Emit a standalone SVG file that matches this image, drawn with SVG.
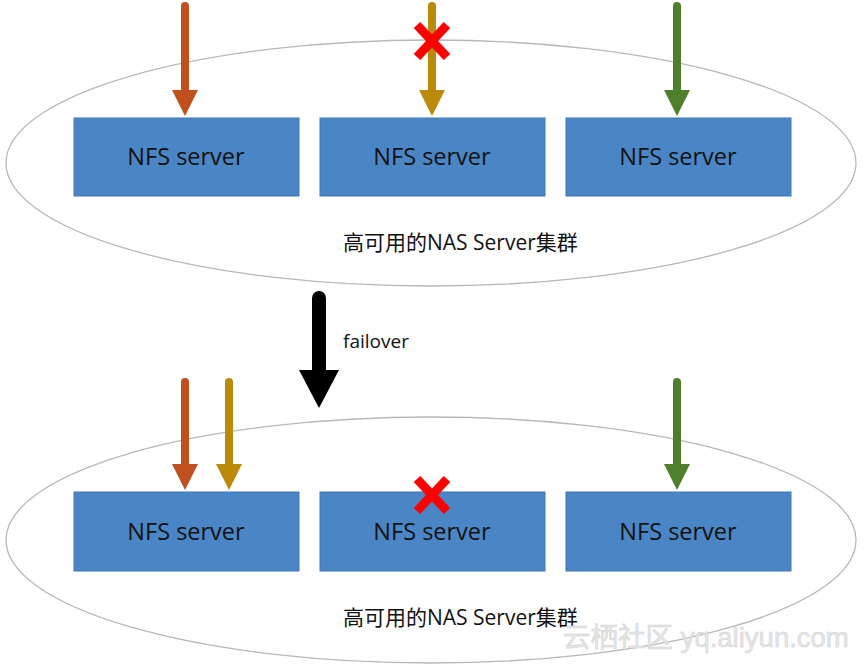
<svg xmlns="http://www.w3.org/2000/svg" width="865" height="671" viewBox="0 0 865 671">
<defs>
<style>
.ell{fill:none;stroke:#b8b8b8;stroke-width:1.3}
.box{fill:#4a86c5;stroke:#4178b4;stroke-width:1}
.bt{font-family:"Open Sans","Liberation Sans",sans-serif;font-size:23.5px;fill:#111;text-anchor:middle}
.lbl{font-family:"Open Sans","Noto Sans CJK SC",sans-serif;font-size:21px;fill:#111}
.x{stroke:#ff0000;stroke-width:9;stroke-linecap:butt}
</style>
</defs>
<rect width="865" height="671" fill="#fff"/>
<g id="cluster-top">
<ellipse class="ell" cx="431" cy="163" rx="425" ry="123"/>
<text class="lbl" x="343" y="250">高可用的NAS Server集群</text>
</g>
<g id="cluster-bottom">
<ellipse class="ell" cx="431" cy="540" rx="425" ry="123"/>
<text class="lbl" x="343" y="625">高可用的NAS Server集群</text>
</g>
<g id="top-s1"><rect class="box" x="74" y="118" width="225" height="78"/><text class="bt" x="186" y="165">NFS server</text></g>
<g id="top-s2"><rect class="box" x="320" y="118" width="225" height="78"/><text class="bt" x="432" y="165">NFS server</text></g>
<g id="top-s3"><rect class="box" x="566" y="118" width="225" height="78"/><text class="bt" x="678" y="165">NFS server</text></g>
<g id="bot-s1"><rect class="box" x="74" y="492" width="225" height="79"/><text class="bt" x="186" y="540">NFS server</text></g>
<g id="bot-s2"><rect class="box" x="320" y="492" width="225" height="79"/><text class="bt" x="432" y="540">NFS server</text></g>
<g id="bot-s3"><rect class="box" x="566" y="492" width="225" height="79"/><text class="bt" x="678" y="540">NFS server</text></g>
<g id="connectors">
<line x1="185" y1="6" x2="185" y2="92" stroke="#c0501e" stroke-width="8" stroke-linecap="round"/>
<polygon points="172,90 198,90 185,116" fill="#c0501e"/>
<line x1="432" y1="6" x2="432" y2="92" stroke="#bc8a0a" stroke-width="8" stroke-linecap="round"/>
<polygon points="419,90 445,90 432,116" fill="#bc8a0a"/>
<line x1="677" y1="6" x2="677" y2="92" stroke="#4f7f2b" stroke-width="8" stroke-linecap="round"/>
<polygon points="664,90 690,90 677,116" fill="#4f7f2b"/>
<line x1="319" y1="298" x2="319" y2="372" stroke="#000" stroke-width="14" stroke-linecap="round"/>
<polygon points="299,370 339,370 319,408" fill="#000"/>
<line x1="185" y1="382" x2="185" y2="466" stroke="#c0501e" stroke-width="8" stroke-linecap="round"/>
<polygon points="172,464 198,464 185,490" fill="#c0501e"/>
<line x1="229" y1="382" x2="229" y2="466" stroke="#bc8a0a" stroke-width="8" stroke-linecap="round"/>
<polygon points="216,464 242,464 229,490" fill="#bc8a0a"/>
<line x1="677" y1="382" x2="677" y2="466" stroke="#4f7f2b" stroke-width="8" stroke-linecap="round"/>
<polygon points="664,464 690,464 677,490" fill="#4f7f2b"/>
<text x="343" y="348" font-family="'Open Sans','Liberation Sans',sans-serif" font-size="19" fill="#111">failover</text>
</g>
<g id="x-top"><line class="x" x1="417" y1="25" x2="447" y2="57"/><line class="x" x1="447" y1="25" x2="417" y2="57"/></g>
<g id="x-bot"><line class="x" x1="417" y1="479" x2="447" y2="511"/><line class="x" x1="447" y1="479" x2="417" y2="511"/></g>
<text x="563" y="647" font-family="'Liberation Sans','Noto Sans CJK SC',sans-serif" font-size="27.5" fill="#e6e6e6" stroke="#d0d0d0" stroke-width="0.5">云栖社区 yq.aliyun.com</text>
</svg>
